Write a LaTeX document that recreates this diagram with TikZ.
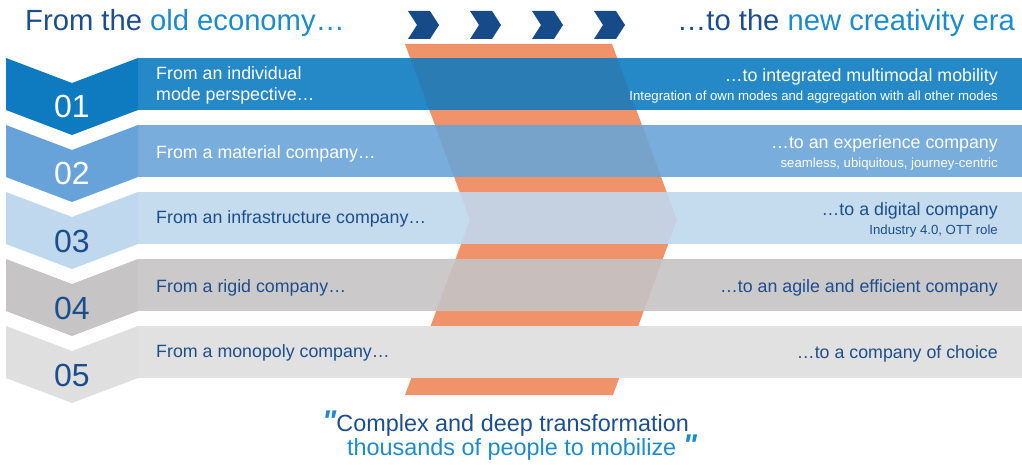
\documentclass[tikz,border=0pt]{standalone}
\usepackage{fontspec}
\setmainfont{Liberation Sans}
\newfontfamily\quotefont[Ligatures=TeXOff]{Liberation Sans}

\definecolor{darkblue}{HTML}{1C4E8D}
\definecolor{lightblue}{HTML}{1C8BCB}
\definecolor{arrowblue}{HTML}{174A88}
\definecolor{bendorange}{HTML}{F0936A}
\definecolor{band1}{HTML}{2589C8}
\definecolor{band2}{HTML}{79ADDC}
\definecolor{band3}{HTML}{C5DCEF}
\definecolor{band4}{HTML}{CCC9CA}
\definecolor{band5}{HTML}{E1E1E1}
\definecolor{badge1}{HTML}{0E7AC0}
\definecolor{badge2}{HTML}{67A2D8}
\definecolor{badge3}{HTML}{BFD8EE}
\definecolor{badge4}{HTML}{C6C4C5}
\definecolor{badge5}{HTML}{DFDFDF}
\definecolor{over1}{HTML}{2A7DB4}
\definecolor{over2}{HTML}{77A2CA}
\definecolor{over3}{HTML}{C5D1E0}
\definecolor{over4}{HTML}{C8BFBC}
\definecolor{over5}{HTML}{E1E1E1}

% the orange bend behind the rows
\def\bendpath{(405,44) -- (612,44) -- (677,220) -- (613,395) -- (405,395) -- (470,220) -- cycle}
% slanted quote mark
\newcommand\qmark{{\quotefont\bfseries\itshape\fontsize{30}{30}\selectfont\textcolor{lightblue}{"}}}

\begin{document}
\begin{tikzpicture}[x=1pt, y=-1pt,
  headtxt/.style={font=\fontsize{29.2}{31}\selectfont, inner sep=0pt},
  fromtxt/.style={anchor=base west, font=\fontsize{17.8}{20}\selectfont, inner sep=0pt},
  totxt/.style={anchor=base east, font=\fontsize{17.8}{20}\selectfont, inner sep=0pt},
  subtxt/.style={anchor=base east, font=\fontsize{13.2}{15}\selectfont, inner sep=0pt},
  numtxt/.style={anchor=base, font=\fontsize{32}{34}\selectfont, inner sep=0pt},
  quotetxt/.style={anchor=base west, font=\fontsize{23.4}{25}\selectfont, inner sep=0pt}]
  \useasboundingbox (0,0) rectangle (1022,465);

  % header
  \node[headtxt, anchor=base west] (old) at (25,31)
    {\textcolor{darkblue}{From the} \textcolor{lightblue}{old economy…}};
  \node[headtxt, anchor=base east] (new) at (1015,31)
    {\textcolor{darkblue}{…to the} \textcolor{lightblue}{new creativity era}};
  \foreach \x in {408,470,532,594} {
    \fill[arrowblue] (\x,11) -- ++(22,0) -- ++(9,14) -- ++(-9,14) -- ++(-22,0) -- ++(9,-14) -- cycle;
  }

  \fill[bendorange] \bendpath;

  % rows with their badges
  \foreach \i/\t/\c in {1/58/white, 2/125/white, 3/192/darkblue, 4/259/darkblue, 5/326/darkblue} {
    \fill[band\i] (138,\t) rectangle (1022,\t+52);
    \begin{scope}
      \clip \bendpath;
      \fill[over\i] (138,\t) rectangle (1022,\t+52);
    \end{scope}
    \fill[badge\i] (6,\t) -- (72,\t+25) -- (138,\t) -- (138,\t+52) -- (72,\t+77) -- (6,\t+52) -- cycle;
    \node[numtxt, text=\c] (num\i) at (72,\t+60) {0\i};
  }

  \node[fromtxt, white] (from1a) at (156,80) {From an individual};
  \node[fromtxt, white] (from1b) at (156,101) {mode perspective…};
  \node[fromtxt, white] (from2) at (156,159) {From a material company…};
  \node[fromtxt, darkblue] (from3) at (156,223) {From an infrastructure company…};
  \node[fromtxt, darkblue] (from4) at (156,292) {From a rigid company…};
  \node[fromtxt, darkblue] (from5) at (156,357) {From a monopoly company…};

  \node[totxt, white] (to1) at (998,82) {…to integrated multimodal mobility};
  \node[subtxt, white] (sub1) at (998,101) {Integration of own modes and aggregation with all other modes};
  \node[totxt, white] (to2) at (998,149) {…to an experience company};
  \node[subtxt, white] (sub2) at (998,168) {seamless, ubiquitous, journey-centric};
  \node[totxt, darkblue] (to3) at (998,215) {…to a digital company};
  \node[subtxt, darkblue] (sub3) at (998,234) {Industry 4.0, OTT role};
  \node[totxt, darkblue] (to4) at (998,292) {…to an agile and efficient company};
  \node[totxt, darkblue] (to5) at (998,358) {…to a company of choice};

  % quote
  \node[quotetxt, darkblue] (line1) at (322,431) {\qmark Complex and deep transformation};
  \node[quotetxt, lightblue] (line2) at (347,455) {thousands of people to mobilize \qmark};
\end{tikzpicture}
\end{document}
